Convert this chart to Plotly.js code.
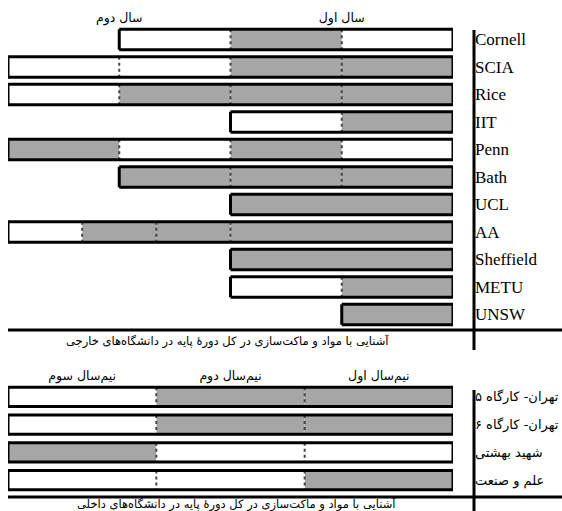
<!DOCTYPE html>
<html>
<head>
<meta charset="utf-8">
<script src="https://cdn.plot.ly/plotly-3.0.1.min.js"></script>
<style>html,body{margin:0;padding:0;background:#fff;}#chart{width:562px;height:511px;}</style>
</head>
<body>
<div id="chart"></div>
<script>
// ---- Data (semester positions counted from the right edge) ----
const topRows = ["Cornell","SCIA","Rice","IIT","Penn","Bath","UCL","AA","Sheffield","METU","UNSW"];
const topHeaderPos = [1, 3];
const topHeaders = ["سال اول", "سال دوم"];
const topSegRow   = [0,0,0, 1,1,1,1, 2,2,2,2, 3,3, 4,4,4,4, 5,5,5, 6, 7,7,7,7, 8, 9,9, 10];
const topSegStart = [0,1,2, 0,1,2,3, 0,1,2,3, 0,1, 0,1,2,3, 0,1,2, 0, 0,2,2.667,3.333, 0, 0,1, 0];
const topSegEnd   = [1,2,3, 1,2,3,4, 1,2,3,4, 1,2, 1,2,3,4, 1,2,3, 2, 2,2.667,3.333,4, 2, 1,2, 1];
const topSegFill  = [0,1,0, 1,1,0,0, 1,1,1,0, 1,0, 0,1,0,1, 1,1,1, 1, 1,1,1,0, 1, 1,0, 1];
const topCaption = "آشنایی با مواد و ماکت‌سازی در کل دورهٔ پایه در دانشگاه‌های خارجی";

const botRows = ["تهران- کارگاه ۵","تهران- کارگاه ۶","شهید بهشتی","علم و صنعت"];
const botHeaderPos = [0.5, 1.5, 2.5];
const botHeaders = ["نیم‌سال اول", "نیم‌سال دوم", "نیم‌سال سوم"];
const botSegRow   = [0,0,0, 1,1,1, 2,2,2, 3,3,3];
const botSegStart = [0,1,2, 0,1,2, 0,1,2, 0,1,2];
const botSegEnd   = [1,2,3, 1,2,3, 1,2,3, 1,2,3];
const botSegFill  = [1,1,0, 1,1,0, 0,0,1, 1,0,0];
const botCaption = "آشنایی با مواد و ماکت‌سازی در کل دورهٔ پایه در دانشگاه‌های داخلی";

// ---- Styling ----
const W = 562, H = 511;
const GRAY = "#a6a6a6";
const px = v => v / W;
const py = v => 1 - v / H;
const FA = "DejaVu Sans";
const FS = "Liberation Serif";

function panel(rows, sRow, sStart, sEnd, sFill, xa, ya, bw) {
  const out = [];
  [1, 0].forEach(f => {
    const idx = sRow.map((_, i) => i).filter(i => sFill[i] === f);
    out.push({
      type: "bar", orientation: "h", xaxis: xa, yaxis: ya,
      y: idx.map(i => sRow[i]), base: idx.map(i => sStart[i]),
      x: idx.map(i => sEnd[i] - sStart[i]), width: bw,
      marker: {color: f ? GRAY : "#ffffff", line: {width: 0}},
      hoverinfo: "skip", showlegend: false
    });
  });
  const ex = [], ey = [], dx = [], dy = [];
  rows.forEach((_, r) => {
    const ids = sRow.map((_, i) => i).filter(i => sRow[i] === r);
    const lo = Math.min(...ids.map(i => sStart[i]));
    const hi = Math.max(...ids.map(i => sEnd[i]));
    const t = r - bw / 2, b = r + bw / 2;
    ex.push(lo, hi, null, lo, hi, null, lo, lo, null, hi, hi, null);
    ey.push(t, t, null, b, b, null, t, b, null, t, b, null);
    ids.forEach(i => {
      if (sStart[i] > lo) { dx.push(sStart[i], sStart[i], null); dy.push(t, b, null); }
    });
  });
  out.push({type: "scatter", mode: "lines", xaxis: xa, yaxis: ya, x: dx, y: dy,
    line: {color: "#444", width: 2, dash: "dot"}, hoverinfo: "skip", showlegend: false});
  out.push({type: "scatter", mode: "lines", xaxis: xa, yaxis: ya, x: ex, y: ey,
    line: {color: "#000", width: 3}, hoverinfo: "skip", showlegend: false});
  return out;
}

const data = [].concat(
  panel(topRows, topSegRow, topSegStart, topSegEnd, topSegFill, "x", "y", 0.75),
  panel(botRows, botSegRow, botSegStart, botSegEnd, botSegFill, "x2", "y2", 0.7)
);

const axX = {showgrid: false, zeroline: false, showline: false, ticks: "", fixedrange: true,
  domain: [px(8), px(453)], side: "top", tickfont: {family: FA, size: 12.5, color: "#000"}};
const layout = {
  width: W, height: H, margin: {l: 0, r: 0, t: 0, b: 0},
  paper_bgcolor: "#fff", plot_bgcolor: "#fff", barmode: "overlay", showlegend: false,
  xaxis: Object.assign({}, axX, {anchor: "y", range: [4, 0], tickvals: topHeaderPos, ticktext: topHeaders}),
  yaxis: {domain: [py(328.25), py(25.75)], range: [10.5, -0.5], anchor: "free", position: px(474),
    side: "right", showgrid: false, zeroline: false, showline: false, ticks: "",
    tickvals: topRows.map((_, i) => i), ticktext: topRows,
    tickfont: {family: FS, size: 17, color: "#000"}},
  xaxis2: Object.assign({}, axX, {anchor: "y2", range: [3, 0], tickvals: botHeaderPos, ticktext: botHeaders}),
  yaxis2: {domain: [py(494), py(383)], range: [3.5, -0.5], anchor: "free", position: px(474),
    side: "right", showgrid: false, zeroline: false, showline: false, ticks: "",
    tickvals: botRows.map((_, i) => i), ticktext: botRows,
    tickfont: {family: FA, size: 13, color: "#000"}},
  shapes: [
    {type: "line", xref: "paper", yref: "paper", x0: px(474), x1: px(474), y0: py(30), y1: py(350), line: {color: "#000", width: 3}},
    {type: "line", xref: "paper", yref: "paper", x0: px(8), x1: px(562), y0: py(330), y1: py(330), line: {color: "#000", width: 3}},
    {type: "line", xref: "paper", yref: "paper", x0: px(474), x1: px(474), y0: py(390), y1: py(511), line: {color: "#000", width: 3}},
    {type: "line", xref: "paper", yref: "paper", x0: px(8), x1: px(562), y0: py(497), y1: py(497), line: {color: "#000", width: 3}}
  ],
  annotations: [
    {xref: "paper", yref: "paper", x: px(227), y: py(341), text: topCaption, showarrow: false,
      font: {family: FA, size: 11.5, color: "#000"}, xanchor: "center", yanchor: "middle"},
    {xref: "paper", yref: "paper", x: px(237), y: py(504.5), text: botCaption, showarrow: false,
      font: {family: FA, size: 11.5, color: "#000"}, xanchor: "center", yanchor: "middle"}
  ]
};

Plotly.newPlot("chart", data, layout, {displayModeBar: false, staticPlot: true});
</script>
</body>
</html>
